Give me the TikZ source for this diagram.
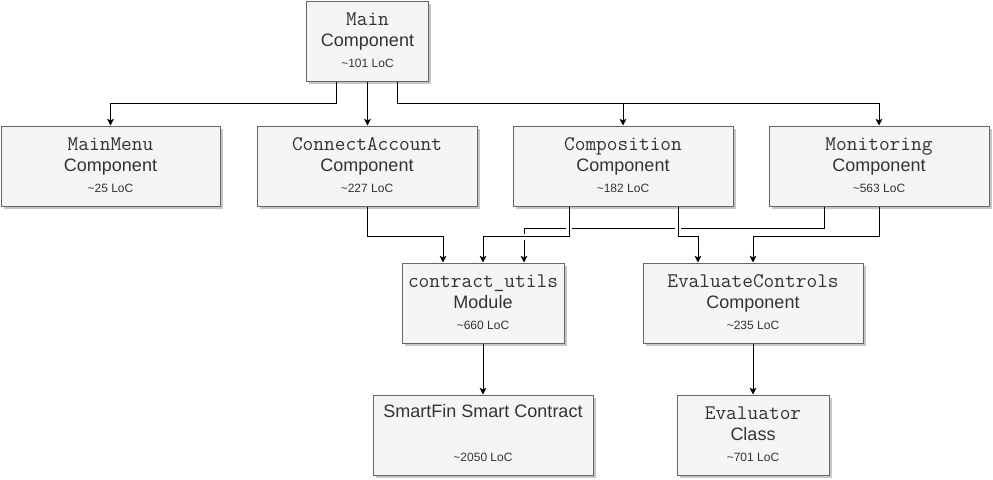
\documentclass[tikz,border=0pt]{standalone}
\usepackage{fontspec}
\setmainfont{Liberation Sans}
\usetikzlibrary{calc,arrows.meta,shadows}
\definecolor{boxfill}{HTML}{F5F5F5}
\definecolor{boxline}{HTML}{666666}
\definecolor{txt}{HTML}{333333}
\tikzset{
  box/.style={rectangle, draw=boxline, fill=boxfill, line width=0.75pt, inner sep=0pt,
    minimum height=60pt,
    drop shadow={shadow xshift=2pt, shadow yshift=-2pt, fill=black, opacity=0.22}},
  mtxt/.style={anchor=base, inner sep=0pt, text=txt, font=\ttfamily\fontsize{15.6}{17}\selectfont},
  stxt/.style={anchor=base, inner sep=0pt, text=txt, font=\fontsize{13.5}{16}\selectfont},
  ltxt/.style={anchor=base, inner sep=0pt, text=txt, font=\fontsize{9}{11}\selectfont},
  conn/.style={draw=black, line width=0.75pt, -{Stealth[length=5pt,width=5pt,inset=1.2pt]}},
  gapper/.style={preaction={draw=white, line width=4.5pt, arrows=-, shorten <=4pt, shorten >=8pt}}
}
% name, center x, top y, width, mono text, sans text, loc text
\newcommand\compbox[7]{%
  \node[box, minimum width=#4*0.75pt] (#1) at (#2,#3+40) {};
  \node[mtxt] (#1-m) at ($(#1.north)+(0,25)$) {#5};
  \node[stxt] (#1-s) at ($(#1.north)+(0,46)$) {#6};
  \node[ltxt] (#1-l) at ($(#1.north)+(0,67)$) {#7};
}
\begin{document}
\begin{tikzpicture}[x=0.75pt, y=-0.75pt]
\useasboundingbox (0,0) rectangle (993,479);

\compbox{main}{367.5}{1}{122}{Main}{Component}{\textasciitilde101 LoC}
\compbox{mainmenu}{110.5}{126}{219}{MainMenu}{Component}{\textasciitilde25 LoC}
\compbox{connect}{367}{126}{220}{ConnectAccount}{Component}{\textasciitilde227 LoC}
\compbox{composition}{623}{126}{220}{Composition}{Component}{\textasciitilde182 LoC}
\compbox{monitoring}{879}{126}{220}{Monitoring}{Component}{\textasciitilde563 LoC}
\compbox{contract}{483}{263}{162}{contract\_utils}{Module}{\textasciitilde660 LoC}
\compbox{evalctrl}{753}{263}{220}{EvaluateControls}{Component}{\textasciitilde235 LoC}
\compbox{evaluator}{753}{395}{152}{Evaluator}{Class}{\textasciitilde701 LoC}

\node[box, minimum width=165pt] (smartfin) at (483,435) {};
\node[stxt] (smartfin-s) at ($(smartfin.north)+(0,23)$) {SmartFin Smart Contract};
\node[ltxt] (smartfin-l) at ($(smartfin.north)+(0,67)$) {\textasciitilde2050 LoC};

% from Main
\draw[conn] ($(main.south)+(-31.5,0)$) -- ++(0,22) -| (mainmenu.north);
\draw[conn] (main.south) -- (main.south |- connect.north);
\draw[conn] ($(main.south)+(29.5,0)$) -- ++(0,22) coordinate (mrb) -| (composition.north);
\draw[conn] (mrb) -| (monitoring.north);

% to contract_utils / EvaluateControls
\draw[conn] (connect.south) -- ++(0,30) -| ($(contract.north)+(-40,0)$);
\draw[conn] ($(monitoring.south)+(-54.5,0)$) -- ++(0,22) -| ($(contract.north)+(41,0)$);
\draw[conn, gapper] ($(composition.south)+(-54,0)$) -- ++(0,30) -| (contract.north);
\draw[conn, gapper] ($(composition.south)+(55,0)$) -- ++(0,30) -| ($(evalctrl.north)+(-55,0)$);
\draw[conn] ($(monitoring.south)+(0.5,0)$) -- ++(0,30) -| (evalctrl.north);

% bottom
\draw[conn] (contract.south) -- (smartfin.north);
\draw[conn] (evalctrl.south) -- (evaluator.north);
\end{tikzpicture}
\end{document}
